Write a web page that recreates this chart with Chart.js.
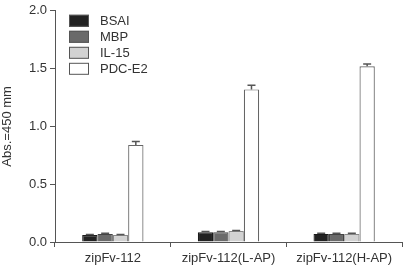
<!DOCTYPE html>
<html>
<head>
<meta charset="utf-8">
<script src="https://cdn.jsdelivr.net/npm/chart.js@4/dist/chart.umd.min.js"></script>
<style>
  html, body { margin: 0; padding: 0; background: #fff; }
  #wrap { width: 404px; height: 267px; position: relative; }
</style>
</head>
<body>
<div id="wrap"><canvas id="c"></canvas></div>
<script>
// values (Abs. at 450 nm)
var categories = ['zipFv-112', 'zipFv-112(L-AP)', 'zipFv-112(H-AP)'];
var seriesNames = ['BSAI', 'MBP', 'IL-15', 'PDC-E2'];
var bsai  = [0.06, 0.085, 0.07];
var mbp   = [0.07, 0.085, 0.07];
var il15  = [0.06, 0.095, 0.07];
var pdce2 = [0.84, 1.32, 1.52];
var pdce2Err = [0.03, 0.035, 0.02];
var smallErr = [0.005, 0.005, 0.005];
var yTicks = [0, 0.5, 1.0, 1.5, 2.0];

var FONT = "'Liberation Sans', Arial, sans-serif";
var TEXT = '#333';
var AXIS = '#555';

function ds(label, data, fill, border, err) {
  return { label: label, data: data, backgroundColor: fill, borderColor: border,
           borderWidth: 1.2, err: err };
}

var datasets = [
  ds(seriesNames[0], bsai,  '#222222', '#1a1a1a', smallErr),
  ds(seriesNames[1], mbp,   '#6a6a6a', '#444444', smallErr),
  ds(seriesNames[2], il15,  '#d2d2d2', '#888888', smallErr),
  ds(seriesNames[3], pdce2, '#ffffff', '#666666', pdce2Err)
];

/* error bars: position from the bar elements + y scale */
var errorBars = {
  id: 'errorBars',
  afterDatasetsDraw: function (chart) {
    var ctx = chart.ctx, y = chart.scales.y;
    ctx.save();
    ctx.strokeStyle = '#555';
    ctx.lineWidth = 1.5;
    chart.data.datasets.forEach(function (d, i) {
      chart.getDatasetMeta(i).data.forEach(function (bar, j) {
        var v = d.data[j], e = d.err[j];
        var top = y.getPixelForValue(v + e), base = y.getPixelForValue(v);
        ctx.beginPath();
        ctx.moveTo(bar.x, base); ctx.lineTo(bar.x, top);
        ctx.moveTo(bar.x - 4, top); ctx.lineTo(bar.x + 4, top);
        ctx.stroke();
      });
    });
    ctx.restore();
  }
};

/* stacked legend in the top-left corner of the plot */
var boxLegend = {
  id: 'boxLegend',
  afterDraw: function (chart) {
    var ctx = chart.ctx, a = chart.chartArea;
    ctx.save();
    ctx.font = '13px ' + FONT;
    ctx.textBaseline = 'middle';
    chart.data.datasets.forEach(function (d, i) {
      var x = a.left + 14, yy = a.top + 4 + i * 16;
      ctx.fillStyle = d.backgroundColor;
      ctx.fillRect(x, yy, 20, 12);
      ctx.strokeStyle = '#555';
      ctx.lineWidth = 1;
      ctx.strokeRect(x + 0.5, yy + 0.5, 19, 11);
      ctx.fillStyle = TEXT;
      ctx.fillText(d.label, x + 31, yy + 6.5);
    });
    ctx.restore();
  }
};

new Chart(document.getElementById('c'), {
  type: 'bar',
  data: { labels: categories, datasets: datasets },
  plugins: [errorBars, boxLegend],
  options: {
    responsive: true,
    maintainAspectRatio: false,
    animation: false,
    layout: { padding: { top: 8, right: 2, left: 0, bottom: 0 } },
    categoryPercentage: 0.53,
    barPercentage: 1.0,
    plugins: { legend: { display: false }, tooltip: { enabled: false } },
    scales: {
      x: {
        offset: true,
        grid: { offset: true, drawOnChartArea: false, color: AXIS, tickLength: 5, tickWidth: 1 },
        border: { color: AXIS, width: 1 },
        ticks: { color: TEXT, font: { family: FONT, size: 13 }, padding: 4, maxRotation: 0 },
        afterFit: function (s) { s.height = 25; }
      },
      y: {
        min: 0, max: 2,
        afterBuildTicks: function (s) { s.ticks = yTicks.map(function (v) { return { value: v }; }); },
        grid: { drawOnChartArea: false, color: AXIS, tickLength: 5 },
        border: { color: AXIS, width: 1 },
        ticks: { color: TEXT, font: { family: FONT, size: 13 }, padding: 3,
                 callback: function (v) { return v.toFixed(1); } },
        title: { display: true, text: 'Abs.=450 mm', color: TEXT,
                 font: { family: FONT, size: 13 }, padding: { top: 0, bottom: 6 } },
        afterFit: function (s) { s.width = 55; }
      }
    }
  }
});
</script>
</body>
</html>
